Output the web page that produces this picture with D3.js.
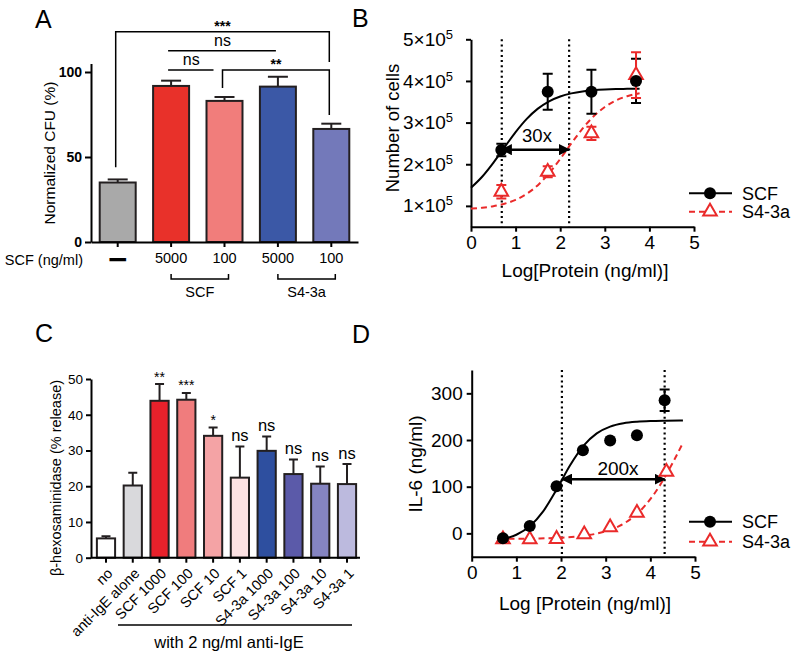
<!DOCTYPE html>
<html><head><meta charset="utf-8">
<script src="https://cdn.jsdelivr.net/npm/d3@7"></script>
<style>
body{margin:0;background:#fff}
svg{font-family:"Liberation Sans",Arial,Helvetica,sans-serif}
</style>
</head><body>
<svg id="c" width="800" height="659"></svg>
<script>
// ===== Panel A data =====
const groupsA = ["none", "SCF 5000", "SCF 100", "S4-3a 5000", "S4-3a 100"];
const labelsA = ["—", "5000", "100", "5000", "100"];
const valuesA = [35, 91.8, 83, 91.4, 66.5];
const errorsA = [1.8, 3.1, 2.3, 5.8, 3.1];
const colorsA = ["#a9a9a9", "#e8312a", "#f17d7b", "#3b58a6", "#7379ba"];
const ticksA = [0, 50, 100];
const sigA = [
  {from: 0, to: 4, y: 123.7, armL: 44, armR: 105.9, label: "***"},
  {from: 1, to: 3, y: 112.5, label: "ns"},
  {from: 1, to: 2, y: 101.2, label: "ns", short: true},
  {from: 2, to: 4, y: 101.2, armL: 90.6, armR: 74.7, label: "**"}
];

// ===== Panel B data =====
const logB = [0.68, 1.72, 2.7, 3.7];
const scfB = [234000, 374000, 374000, 400000];
const scfErrB = [15000, 43000, 53000, 53000];
const s43aB = [134000, 182000, 274000, 414000];
const s43aErrB = [16000, 13000, 16000, 55000];
const curveXB = [0, 0.25, 0.5, 0.75, 1, 1.25, 1.5, 1.75, 2, 2.25, 2.5, 2.75, 3, 3.25, 3.5, 3.78];
const scfCurveB = [143600, 170000, 203300, 240500, 277200, 309000, 333500, 351200, 362800, 370200, 374900, 377700, 379400, 380500, 381100, 381500];
const s43aCurveB = [93300, 95500, 99200, 105100, 114500, 128900, 149800, 178100, 212600, 250000, 285400, 315100, 337400, 353100, 363300, 370400];
const yTicksB = [100000, 200000, 300000, 400000, 500000];
const xTicks = [0, 1, 2, 3, 4, 5];
const ec50B = [0.69, 2.2];
const arrowYB = 235000;

// ===== Panel C data =====
const groupsC = ["no", "anti-IgE alone", "SCF 1000", "SCF 100", "SCF 10", "SCF 1", "S4-3a 1000", "S4-3a 100", "S4-3a 10", "S4-3a 1"];
const valuesC = [5.4, 20.2, 43.9, 44.2, 34.1, 22.4, 29.9, 23.4, 20.7, 20.6];
const errorsC = [0.6, 3.6, 4.7, 1.9, 2.3, 8.7, 4.0, 4.1, 4.8, 5.6];
const sigC = ["", "", "**", "***", "*", "ns", "ns", "ns", "ns", "ns"];
const colorsC = ["#ffffff", "#d9d9dc", "#e8212b", "#f07c7d", "#f4a3a5", "#fde2e3", "#2e4f9f", "#5b5aa9", "#8584c1", "#bcbade"];
const ticksC = [0, 10, 20, 30, 40, 50];

// ===== Panel D data =====
const logD = [0.7, 1.3, 1.9, 2.49, 3.1, 3.7, 4.32];
const scfD = [-10.7, 15.6, 101, 178, 199, 210, 285];
const scfErrD = [0, 0, 0, 0, 0, 0, 23];
const logD2 = [0.7, 1.3, 1.9, 2.52, 3.1, 3.7, 4.36];
const s43aD = [-13, -13, -12, -2, 13, 44, 132];
const curveXDscf = [0.7, 1, 1.3, 1.6, 1.9, 2.2, 2.5, 2.8, 3.1, 3.4, 3.7, 4, 4.35, 4.73];
const scfCurveD = [-12.1, -3, 15, 47, 93.6, 145.2, 187.4, 214.3, 228.8, 235.9, 239.2, 240.8, 241.5, 241.8];
const curveXDs = [0.6, 1, 1.5, 2, 2.5, 3, 3.3, 3.6, 3.9, 4.2, 4.5, 4.72];
const s43aCurveD = [-11.8, -11.6, -10.9, -9.3, -5.3, 4.4, 15.6, 33.7, 61.4, 100.7, 151, 192];
const yTicksD = [0, 100, 200, 300];
const ec50D = [2.02, 4.32];
const arrowYD = 116;

const RED = "#ea2a2a";
const OUT = "#231f20";
const svg = d3.select("#c");
const fmtInt = d3.format("d");

function styleAxis(g, fs, bold) {
  g.select(".domain").attr("stroke", "#000").attr("stroke-width", 2);
  g.selectAll(".tick line").attr("stroke", "#000").attr("stroke-width", 2);
  g.selectAll(".tick text").attr("fill", "#000").attr("font-size", fs)
    .attr("font-weight", bold ? "bold" : "normal").attr("font-family", null);
  g.attr("font-family", null);
}
function panelLabel(t, x, y) {
  svg.append("text").attr("x", x).attr("y", y).attr("font-size", 25).text(t);
}

// ===================== PANEL A =====================
{
  const xA = d3.scaleBand(groupsA, [91, 358]).paddingInner(0.326).paddingOuter(0.163);
  const yA = d3.scaleLinear([0, 105], [242, 63.5]);
  const g = svg.append("g");
  const cx = i => xA(groupsA[i]) + xA.bandwidth() / 2;
  g.selectAll("g.err").data(groupsA).join("g").each(function(d, i) {
    const s = d3.select(this), x = cx(i), top = yA(valuesA[i] + errorsA[i]);
    s.append("line").attr("x1", x).attr("x2", x).attr("y1", yA(valuesA[i])).attr("y2", top).attr("stroke", OUT).attr("stroke-width", 2);
    s.append("line").attr("x1", x - 10).attr("x2", x + 10).attr("y1", top).attr("y2", top).attr("stroke", OUT).attr("stroke-width", 2);
  });
  g.selectAll("rect").data(groupsA).join("rect")
    .attr("x", d => xA(d)).attr("width", xA.bandwidth())
    .attr("y", (d, i) => yA(valuesA[i])).attr("height", (d, i) => yA(0) - yA(valuesA[i]))
    .attr("fill", (d, i) => colorsA[i]).attr("stroke", OUT).attr("stroke-width", 2);
  const ay = g.append("g").attr("transform", "translate(91,0)")
    .call(d3.axisLeft(yA).tickValues(ticksA).tickSize(6).tickSizeOuter(0).tickPadding(3));
  styleAxis(ay, 14, true);
  const ax = g.append("g").attr("transform", "translate(0,242)")
    .call(d3.axisBottom(xA).tickSize(5).tickSizeOuter(0).tickPadding(6).tickFormat((d, i) => labelsA[i]));
  styleAxis(ax, 14.5, false);
  ax.selectAll(".tick text").filter(d => d === "none").attr("font-weight", "bold").attr("stroke", "#000").attr("stroke-width", 1.6).attr("font-size", 15);
  g.append("text").attr("x", 83).attr("y", 265).attr("text-anchor", "end").attr("font-size", 14.5).text("SCF (ng/ml)");
  g.append("text").attr("transform", "translate(55,153) rotate(-90)").attr("text-anchor", "middle").attr("font-size", 15.5).text("Normalized CFU (%)");
  [["SCF", 1, 2], ["S4-3a", 3, 4]].forEach(([lab, a, b]) => {
    const x1 = cx(a), x2 = cx(b) + 4;
    g.append("path").attr("d", `M${x1},274V279H${x2}V274`).attr("fill", "none").attr("stroke", "#000").attr("stroke-width", 1.5);
    g.append("text").attr("x", (x1 + x2) / 2).attr("y", 297).attr("text-anchor", "middle").attr("font-size", 14.5).text(lab);
  });
  sigA.forEach(s => {
    const x1 = cx(s.from) - 2, x2 = s.short ? cx(s.to) - 11 : cx(s.to) - 2, y = yA(s.y);
    let d;
    if (s.armL !== undefined) d = `M${x1},${yA(s.armL)}V${y}H${x2}V${yA(s.armR)}`;
    else d = `M${x1 - 1},${y}H${x2}`;
    g.append("path").attr("d", d).attr("fill", "none").attr("stroke", "#000").attr("stroke-width", 1.5);
    const isStar = s.label.includes("*");
    g.append("text").attr("x", (x1 + x2) / 2).attr("y", isStar ? y - 0.5 : y - 4.5)
      .attr("text-anchor", "middle").attr("font-size", isStar ? 14 : 16).attr("font-weight", isStar ? "bold" : "normal").text(s.label);
  });
  panelLabel("A", 35, 28);
}

// ===================== PANEL B =====================
const defs = svg.append("defs");
defs.append("marker").attr("id", "ah").attr("viewBox", "0 0 10 10").attr("refX", 9).attr("refY", 5)
  .attr("markerWidth", 4.5).attr("markerHeight", 4.5).attr("orient", "auto-start-reverse").attr("markerUnits", "strokeWidth")
  .append("path").attr("d", "M0,0L10,5L0,10z").attr("fill", "#000");
{
  const x = d3.scaleLinear([0, 5], [471, 694]);
  const y = d3.scaleLinear([50000, 500000], [226.7, 39.3]);
  const g = svg.append("g");
  const ay = g.append("g").attr("transform", "translate(471,0)")
    .call(d3.axisLeft(y).tickValues(yTicksB).tickSize(5).tickSizeOuter(0).tickPadding(4).tickFormat(d => d / 100000 + "×10"));
  styleAxis(ay, 19, false);
  ay.selectAll(".tick text").attr("dx", -9).append("tspan").attr("dy", -7).attr("font-size", 13).text("5");
  const ax = g.append("g").attr("transform", "translate(0,226.7)")
    .call(d3.axisBottom(x).tickValues(xTicks).tickSize(5).tickSizeOuter(0).tickPadding(4).tickFormat(fmtInt));
  styleAxis(ax, 19, false);
  g.append("text").attr("x", 585).attr("y", 277).attr("text-anchor", "middle").attr("font-size", 19).text("Log[Protein (ng/ml)]");
  g.append("text").attr("transform", "translate(399,128) rotate(-90)").attr("text-anchor", "middle").attr("font-size", 18.5).text("Number of cells");
  ec50B.forEach(v => g.append("line").attr("x1", x(v)).attr("x2", x(v)).attr("y1", y(500000)).attr("y2", y(50000))
    .attr("stroke", "#000").attr("stroke-width", 2.2).attr("stroke-dasharray", "2,3.2"));
  const line = d3.line().curve(d3.curveMonotoneX);
  g.append("path").attr("d", line(curveXB.map((v, i) => [x(v), y(s43aCurveB[i])]))).attr("fill", "none").attr("stroke", RED).attr("stroke-width", 2).attr("stroke-dasharray", "6,4");
  g.append("path").attr("d", line(curveXB.map((v, i) => [x(v), y(scfCurveB[i])]))).attr("fill", "none").attr("stroke", "#000").attr("stroke-width", 2);
  g.append("line").attr("x1", x(ec50B[0])).attr("x2", x(ec50B[1])).attr("y1", y(arrowYB)).attr("y2", y(arrowYB))
    .attr("stroke", "#000").attr("stroke-width", 2.5).attr("marker-start", "url(#ah)").attr("marker-end", "url(#ah)");
  g.append("text").attr("x", 537).attr("y", 141.5).attr("text-anchor", "middle").attr("font-size", 18.5).text("30x");
  logB.forEach((v, i) => {
    const xx = x(v), t = y(scfB[i] + scfErrB[i]), b = y(scfB[i] - scfErrB[i]);
    g.append("path").attr("d", `M${xx - 5},${t}H${xx + 5}M${xx},${t}V${b}M${xx - 5},${b}H${xx + 5}`).attr("stroke", "#000").attr("stroke-width", 2).attr("fill", "none");
  });
  const tri = d3.symbol(d3.symbolTriangle, 80);
  logB.forEach((v, i) => {
    const xx = x(v), t = y(s43aB[i] + s43aErrB[i]), b = y(s43aB[i] - s43aErrB[i]);
    g.append("path").attr("d", `M${xx - 5},${t}H${xx + 5}M${xx},${t}V${b}M${xx - 5},${b}H${xx + 5}`).attr("stroke", RED).attr("stroke-width", 2).attr("fill", "none");
    g.append("path").attr("d", tri()).attr("transform", `translate(${xx},${y(s43aB[i])})`).attr("fill", "#fff").attr("stroke", RED).attr("stroke-width", 2);
  });
  logB.forEach((v, i) => g.append("circle").attr("cx", x(v)).attr("cy", y(scfB[i])).attr("r", 6).attr("fill", "#000"));
  const lg = [[193.3, "SCF", "#000", null], [211.7, "S4-3a", RED, "6,4"]];
  lg.forEach(([yy, lab, col, dash], k) => {
    g.append("line").attr("x1", 689).attr("x2", 732).attr("y1", yy).attr("y2", yy).attr("stroke", col).attr("stroke-width", 2).attr("stroke-dasharray", dash);
    if (k === 0) g.append("circle").attr("cx", 710).attr("cy", yy).attr("r", 6).attr("fill", "#000");
    else g.append("path").attr("d", tri()).attr("transform", `translate(710,${yy})`).attr("fill", "#fff").attr("stroke", RED).attr("stroke-width", 2);
    g.append("text").attr("x", 742).attr("y", yy + 6.3).attr("font-size", 18).text(lab);
  });
  panelLabel("B", 352, 27);
}

// ===================== PANEL C =====================
{
  const xC = d3.scaleBand(groupsC, [92.6, 360.4]).paddingInner(0.32).paddingOuter(0.16);
  const yC = d3.scaleLinear([0, 50], [557.7, 379]);
  const g = svg.append("g");
  const cx = i => xC(groupsC[i]) + xC.bandwidth() / 2;
  groupsC.forEach((d, i) => {
    const x = cx(i), top = yC(valuesC[i] + errorsC[i]);
    g.append("path").attr("d", `M${x},${yC(valuesC[i])}V${top}M${x - 4.5},${top}H${x + 4.5}`).attr("stroke", OUT).attr("stroke-width", 2).attr("fill", "none");
  });
  g.selectAll("rect").data(groupsC).join("rect")
    .attr("x", d => xC(d)).attr("width", xC.bandwidth())
    .attr("y", (d, i) => yC(valuesC[i])).attr("height", (d, i) => yC(0) - yC(valuesC[i]))
    .attr("fill", (d, i) => colorsC[i]).attr("stroke", OUT).attr("stroke-width", 2);
  groupsC.forEach((d, i) => {
    if (!sigC[i]) return;
    const isStar = sigC[i].includes("*"), top = yC(valuesC[i] + errorsC[i]);
    g.append("text").attr("x", cx(i)).attr("y", isStar ? top - 2.5 : top - 5.5).attr("text-anchor", "middle")
      .attr("font-size", isStar ? 14 : 16.5).text(sigC[i]);
  });
  const ay = g.append("g").attr("transform", "translate(91,0)")
    .call(d3.axisLeft(yC).tickValues(ticksC).tickSize(5).tickSizeOuter(0).tickPadding(3));
  styleAxis(ay, 13.5, false);
  const ax = g.append("g").attr("transform", "translate(0,557.7)")
    .call(d3.axisBottom(xC).tickSize(5).tickSizeOuter(0));
  styleAxis(ax, 14.5, false);
  ax.select(".domain").attr("d", "M91,0H360");
  ax.selectAll(".tick text").attr("x", 0).attr("y", 0).attr("dy", "0.35em").attr("text-anchor", "end")
    .attr("transform", "translate(4,13) rotate(-45)");
  g.append("line").attr("x1", 118).attr("x2", 352).attr("y1", 625).attr("y2", 625).attr("stroke", "#000").attr("stroke-width", 1.5);
  g.append("text").attr("x", 229).attr("y", 647.5).attr("text-anchor", "middle").attr("font-size", 16.5).text("with 2 ng/ml anti-IgE");
  g.append("text").attr("transform", "translate(61,478) rotate(-90)").attr("text-anchor", "middle").attr("font-size", 14.5).text("β-hexosaminidase  (% release)");
  panelLabel("C", 35, 342);
}

// ===================== PANEL D =====================
{
  const x = d3.scaleLinear([0, 5], [471.7, 695]);
  const y = d3.scaleLinear([-50, 350], [556.7, 370]);
  const g = svg.append("g");
  const ay = g.append("g").attr("transform", "translate(471.7,0)")
    .call(d3.axisLeft(y).tickValues(yTicksD).tickSize(5).tickSizeOuter(0).tickPadding(4));
  styleAxis(ay, 19, false);
  const ax = g.append("g").attr("transform", "translate(0,556.7)")
    .call(d3.axisBottom(x).tickValues(xTicks).tickSize(5).tickSizeOuter(0).tickPadding(4).tickFormat(fmtInt));
  styleAxis(ax, 19, false);
  g.append("text").attr("x", 585).attr("y", 609.5).attr("text-anchor", "middle").attr("font-size", 19).text("Log [Protein (ng/ml)]");
  g.append("text").attr("transform", "translate(422,464) rotate(-90)").attr("text-anchor", "middle").attr("font-size", 19).text("IL-6 (ng/ml)");
  ec50D.forEach(v => g.append("line").attr("x1", x(v)).attr("x2", x(v)).attr("y1", y(350)).attr("y2", y(-50))
    .attr("stroke", "#000").attr("stroke-width", 2.2).attr("stroke-dasharray", "2,3.2"));
  const line = d3.line().curve(d3.curveMonotoneX);
  g.append("path").attr("d", line(curveXDs.map((v, i) => [x(v), y(s43aCurveD[i])]))).attr("fill", "none").attr("stroke", RED).attr("stroke-width", 2).attr("stroke-dasharray", "6,4");
  g.append("path").attr("d", line(curveXDscf.map((v, i) => [x(v), y(scfCurveD[i])]))).attr("fill", "none").attr("stroke", "#000").attr("stroke-width", 2);
  g.append("line").attr("x1", x(ec50D[0])).attr("x2", x(ec50D[1])).attr("y1", y(arrowYD)).attr("y2", y(arrowYD))
    .attr("stroke", "#000").attr("stroke-width", 2.5).attr("marker-start", "url(#ah)").attr("marker-end", "url(#ah)");
  g.append("text").attr("x", 618).attr("y", 474.5).attr("text-anchor", "middle").attr("font-size", 19).text("200x");
  const tri = d3.symbol(d3.symbolTriangle, 80);
  logD2.forEach((v, i) => g.append("path").attr("d", tri()).attr("transform", `translate(${x(v)},${y(s43aD[i])})`).attr("fill", "#fff").attr("stroke", RED).attr("stroke-width", 2));
  logD.forEach((v, i) => {
    if (scfErrD[i] > 0) {
      const xx = x(v), t = y(scfD[i] + scfErrD[i]), b = y(scfD[i] - scfErrD[i]);
      g.append("path").attr("d", `M${xx - 5},${t}H${xx + 5}M${xx},${t}V${b}M${xx - 5},${b}H${xx + 5}`).attr("stroke", "#000").attr("stroke-width", 2).attr("fill", "none");
    }
    g.append("circle").attr("cx", x(v)).attr("cy", y(scfD[i])).attr("r", 6).attr("fill", "#000");
  });
  const lg = [[521.7, "SCF", "#000", null], [541.7, "S4-3a", RED, "6,4"]];
  lg.forEach(([yy, lab, col, dash], k) => {
    g.append("line").attr("x1", 689).attr("x2", 732).attr("y1", yy).attr("y2", yy).attr("stroke", col).attr("stroke-width", 2).attr("stroke-dasharray", dash);
    if (k === 0) g.append("circle").attr("cx", 710).attr("cy", yy).attr("r", 6).attr("fill", "#000");
    else g.append("path").attr("d", tri()).attr("transform", `translate(710,${yy})`).attr("fill", "#fff").attr("stroke", RED).attr("stroke-width", 2);
    g.append("text").attr("x", 742).attr("y", yy + 6.3).attr("font-size", 18).text(lab);
  });
  panelLabel("D", 352, 343);
}
</script>
</body></html>
